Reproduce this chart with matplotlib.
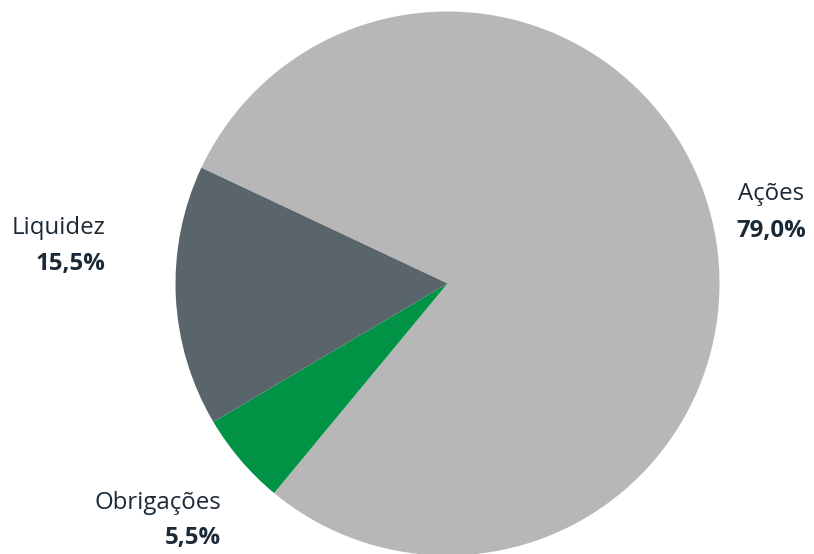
import matplotlib.pyplot as plt

# Allocation data
categories = ['Ações', 'Obrigações', 'Liquidez']
shares = [79.0, 5.5, 15.5]
pct_labels = ['79,0%', '5,5%', '15,5%']
colors = ['#B7B7B7', '#009345', '#5A646B']

W, H = 814, 554
fig = plt.figure(figsize=(W / 100, H / 100), dpi=100)
ax = fig.add_axes([0, 0, 1, 1])

cx, cy, r = 447.5, H - 283.5, 272
ax.pie(shares, colors=colors, startangle=154.8, counterclock=False,
       center=(cx, cy), radius=r, wedgeprops=dict(linewidth=0))

ax.set_xlim(0, W)
ax.set_ylim(0, H)
ax.set_aspect('equal')
ax.axis('off')

txt = '#1B2936'
font = 'Open Sans'
# label anchors: (x, y of name, y of percent, alignment)
label_pos = {
    'Ações': (771, H - 194, H - 231, 'center'),
    'Obrigações': (221, H - 503, H - 538, 'right'),
    'Liquidez': (105, H - 228, H - 264, 'right'),
}
for name, pct in zip(categories, pct_labels):
    x, yn, yp, ha = label_pos[name]
    ax.text(x, yn, name, ha=ha, va='center', fontsize=17.3,
            color=txt, family=font)
    ax.text(x, yp, pct, ha=ha, va='center', fontsize=17.3,
            color=txt, family=font, fontweight='bold')

fig.savefig('out.png', dpi=100)
